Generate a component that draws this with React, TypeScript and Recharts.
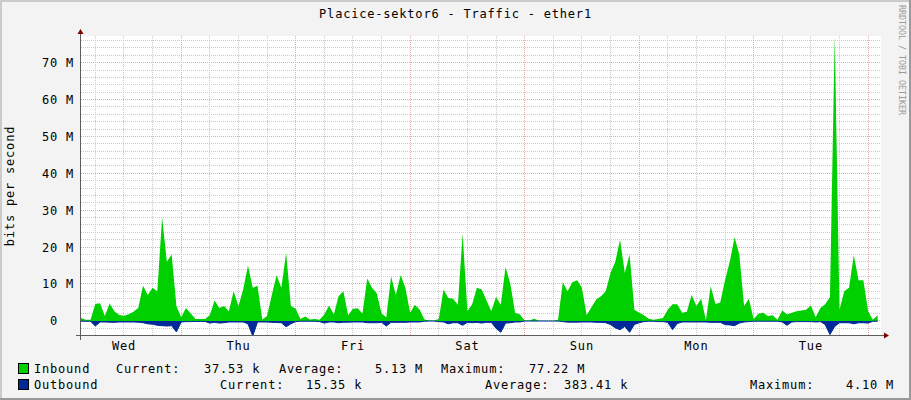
import React from 'react';
import { ComposedChart, Area, XAxis, YAxis, CartesianGrid } from 'recharts';

// Hourly samples (Mbit/s), starting Wed 03:00
const inbound = [
  0.8, 0.3, 0.3, 4.6, 4.8, 1.3, 4.7, 2.6, 1.6, 1.4,
  1.8, 2.5, 3.5, 9.5, 7, 9, 8, 28, 16, 18,
  4, 1.0, 3.5, 2.0, 0.5, 0.5, 0.5, 1.5, 5.5, 3.5,
  4, 2.6, 8, 4, 8.5, 15, 9, 9.5, 0.4, 1.3,
  7, 12.4, 9, 18.4, 4, 3.3, 0.5, 1.2, 0.4, 0.5,
  0.3, 1.7, 4.2, 1.7, 6.7, 8, 1.5, 3.3, 3.4, 2,
  11.5, 9, 7.5, 2, 1, 12, 7, 12.4, 9, 2.2,
  4.4, 3, 0.4, 0.1, 0.1, 0.5, 8.5, 6.2, 6, 4.4,
  23.6, 2.6, 4.5, 9, 8.5, 5.5, 2.6, 6.5, 4.4, 14.6,
  10, 2.2, 1.7, 0.1, 0.1, 0.6, 0.05, 0.05, 0.05, 0.05,
  0.3, 10.5, 8, 10.5, 11, 9, 1.5, 3.7, 5.8, 6.7,
  8, 13, 16, 22, 13, 18, 3, 2.2, 1.5, 0.6,
  0.3, 0.5, 0.8, 3, 4.5, 4.5, 2.2, 2.5, 7, 4,
  6, 0.2, 9.4, 4.6, 5, 11, 16, 22.7, 18, 4,
  6, 0.5, 1.9, 2.2, 1.3, 1.5, 0.3, 2.8, 1.7, 2.2,
  2.6, 2.8, 3, 4.2, 1, 3.5, 4.5, 6.5, 77.22, 3,
  8, 9, 17.8, 11, 11, 2.6, 0.3, 1.5,
];

const outbound = [
  0.1, 0.1, 0.1, 1.4, 0.3, 0.3, 0.35, 0.4, 0.3, 0.3,
  0.3, 0.3, 0.35, 0.5, 0.8, 0.9, 1.2, 1.3, 1.4, 1.3,
  3.0, 0.3, 0.2, 0.2, 0.15, 0.15, 0.15, 0.6, 0.4, 0.6,
  0.5, 0.3, 0.3, 0.3, 0.3, 0.8, 4.1, 0.3, 0.3, 0.3,
  0.4, 0.45, 0.5, 1.6, 0.8, 0.2, 0.1, 0.1, 0.1, 0.1,
  0.2, 0.6, 0.3, 0.3, 0.5, 0.35, 0.35, 0.3, 0.3, 0.3,
  0.5, 0.5, 0.5, 0.4, 1.4, 0.4, 0.4, 0.4, 0.4, 0.3,
  0.3, 0.3, 0.1, 0.05, 0.05, 0.2, 0.3, 0.8, 0.5, 0.5,
  1.2, 0.4, 0.5, 0.4, 0.6, 0.4, 0.4, 2.0, 3.1, 0.6,
  0.5, 0.3, 0.3, 0.05, 0.05, 0.05, 0.05, 0.05, 0.05, 0.05,
  0.05, 0.2, 0.35, 0.35, 0.35, 0.3, 0.3, 0.3, 0.4, 0.4,
  0.5, 1.0, 1.9, 2.4, 1.5, 3.1, 1.0, 0.5, 0.2, 0.1,
  0.1, 0.2, 0.2, 0.4, 2.4, 0.7, 0.3, 0.3, 0.3, 0.3,
  0.3, 0.3, 0.4, 0.4, 0.4, 1.0, 1.1, 1.3, 0.6, 0.3,
  0.2, 0.1, 0.1, 0.1, 0.1, 0.1, 0.1, 0.3, 1.2, 0.3,
  0.2, 0.2, 0.2, 0.2, 0.3, 0.2, 1.0, 3.7, 1.5, 0.5,
  0.5, 0.5, 0.8, 0.5, 0.5, 0.6, 0.1, 0.1,
];

const dayLabels = ['Wed', 'Thu', 'Fri', 'Sat', 'Sun', 'Mon', 'Tue'];
const noonHours = [9, 33, 57, 81, 105, 129, 153];
const midnightHours = [21, 45, 69, 93, 117, 141, 165];
const minorHours = [3, 9, 15, 27, 33, 39, 51, 57, 63, 75, 81, 87, 99, 105, 111, 123, 129, 135, 147, 153, 159];
const yMajorTicks = [0, 10, 20, 30, 40, 50, 60, 70];
const yMinorTicks = [-2, 2, 4, 6, 8, 12, 14, 16, 18, 22, 24, 26, 28, 32, 34, 36, 38, 42, 44, 46, 48, 52, 54, 56, 58, 62, 64, 66, 68, 72, 74, 76];

const title = 'Placice-sektor6 - Traffic - ether1';
const yLabel = 'bits per second';
const credit = 'RRDTOOL / TOBI OETIKER';
const seriesNames = ['Inbound', 'Outbound'];
const seriesColors = ['#00CF00', '#002A97'];
const statCurrent = ['37.53 k', '15.35 k'];
const statAverage = ['5.13 M', '383.41 k'];
const statMaximum = ['77.22 M', '4.10 M'];

const data = inbound.map((v, i) => ({ h: i, inb: v, outb: -outbound[i] }));

const FONT = {
  fontFamily: '"DejaVu Sans Mono", monospace',
  fontSize: 12,
  letterSpacing: 0.8,
  fill: '#000',
};

const YTick = (props: any) => {
  const { y, payload } = props;
  const v = payload.value;
  const label = v === 0 ? '0' : `${v} M`;
  return (
    <text x={v === 0 ? 58 : 74} y={y + 4.5} textAnchor="end" style={FONT as any}>
      {label}
    </text>
  );
};

const XTick = (props: any) => {
  const { x, payload } = props;
  const idx = noonHours.indexOf(payload.value);
  if (idx < 0) return <g />;
  return (
    <text x={x} y={350} textAnchor="middle" style={FONT as any}>
      {dayLabels[idx]}
    </text>
  );
};

const legendRows = [
  { y: 372.5, box: 363, xs: [34, 116, 204, 279, 375, 441, 529] },
  { y: 388.5, box: 379, xs: [34, 220, 306, 485, 564, 750, 846] },
];

export default function App() {
  return (
    <div style={{ position: 'absolute', left: 0, top: 0, width: 911, height: 400, background: '#F3F3F3', overflow: 'hidden' }}>
      <ComposedChart width={911} height={400} data={data} margin={{ top: 36, right: 30, bottom: 34, left: 11 }}>
        <CartesianGrid
          fill="#FFFFFF"
          stroke="#CACACA"
          strokeDasharray="1 1"
          horizontalValues={yMinorTicks}
          verticalValues={minorHours}
          shapeRendering="crispEdges"
        />
        <CartesianGrid
          stroke="#EBAAAA"
          strokeDasharray="1 1"
          horizontalValues={yMajorTicks}
          verticalValues={midnightHours}
          shapeRendering="crispEdges"
        />
        <XAxis
          dataKey="h"
          type="number"
          domain={[0, 167.7]}
          allowDataOverflow
          ticks={noonHours}
          interval={0}
          tick={<XTick />}
          axisLine={false}
          tickLine={false}
          height={30}
        />
        <YAxis
          type="number"
          domain={[-4.1, 77.22]}
          allowDataOverflow
          ticks={yMajorTicks}
          interval={0}
          tick={<YTick />}
          axisLine={false}
          tickLine={false}
          width={70}
        />
        <Area
          dataKey="inb"
          type="linear"
          fill={seriesColors[0]}
          fillOpacity={1}
          stroke="none"
          isAnimationActive={false}
          dot={false}
          activeDot={false}
        />
        <Area
          dataKey="outb"
          type="linear"
          fill={seriesColors[1]}
          fillOpacity={1}
          stroke={seriesColors[1]}
          strokeWidth={1}
          isAnimationActive={false}
          dot={false}
          activeDot={false}
        />
      </ComposedChart>
      <svg width={911} height={400} style={{ position: 'absolute', left: 0, top: 0, pointerEvents: 'none' }}>
        {/* frame shading */}
        <rect x={0} y={0} width={911} height={2} fill="#CBCBCB" />
        <rect x={0} y={0} width={2} height={400} fill="#CBCBCB" />
        <rect x={909} y={0} width={2} height={400} fill="#999999" />
        <rect x={0} y={398} width={911} height={2} fill="#999999" />
        {/* axes */}
        <line x1={80.5} y1={340} x2={80.5} y2={33} stroke="#5E5E5E" strokeWidth={1} />
        <polygon points="77.5,34 83.5,34 80.5,29" fill="#7F0000" />
        <line x1={76} y1={335.5} x2={884} y2={335.5} stroke="#5E5E5E" strokeWidth={1} />
        <polygon points="884,332.5 884,338.5 889,335.5" fill="#7F0000" />
        {/* title */}
        <text x={455.5} y={17.5} textAnchor="middle" style={FONT as any}>{title}</text>
        {/* y label */}
        <text transform="translate(14,186) rotate(-90)" textAnchor="middle" style={FONT as any}>{yLabel}</text>
        {/* credit */}
        <text
          transform="translate(899,5) rotate(90)"
          style={{ fontFamily: '"DejaVu Sans Mono", monospace', fontSize: 8.3, fill: '#9A9A9A' } as any}
        >
          {credit}
        </text>
        {/* legend */}
        {legendRows.map((r, i) => (
          <g key={i}>
            <rect x={18.5} y={r.box + 0.5} width={10} height={10} fill={seriesColors[i]} stroke="#000" strokeWidth={1} />
            <text x={r.xs[0]} y={r.y} style={FONT as any}>{seriesNames[i]}</text>
            <text x={r.xs[1]} y={r.y} style={FONT as any}>Current:</text>
            <text x={r.xs[2]} y={r.y} style={FONT as any}>{statCurrent[i]}</text>
            <text x={r.xs[3]} y={r.y} style={FONT as any}>Average:</text>
            <text x={r.xs[4]} y={r.y} style={FONT as any}>{statAverage[i]}</text>
            <text x={r.xs[5]} y={r.y} style={FONT as any}>Maximum:</text>
            <text x={r.xs[6]} y={r.y} style={FONT as any}>{statMaximum[i]}</text>
          </g>
        ))}
      </svg>
    </div>
  );
}
